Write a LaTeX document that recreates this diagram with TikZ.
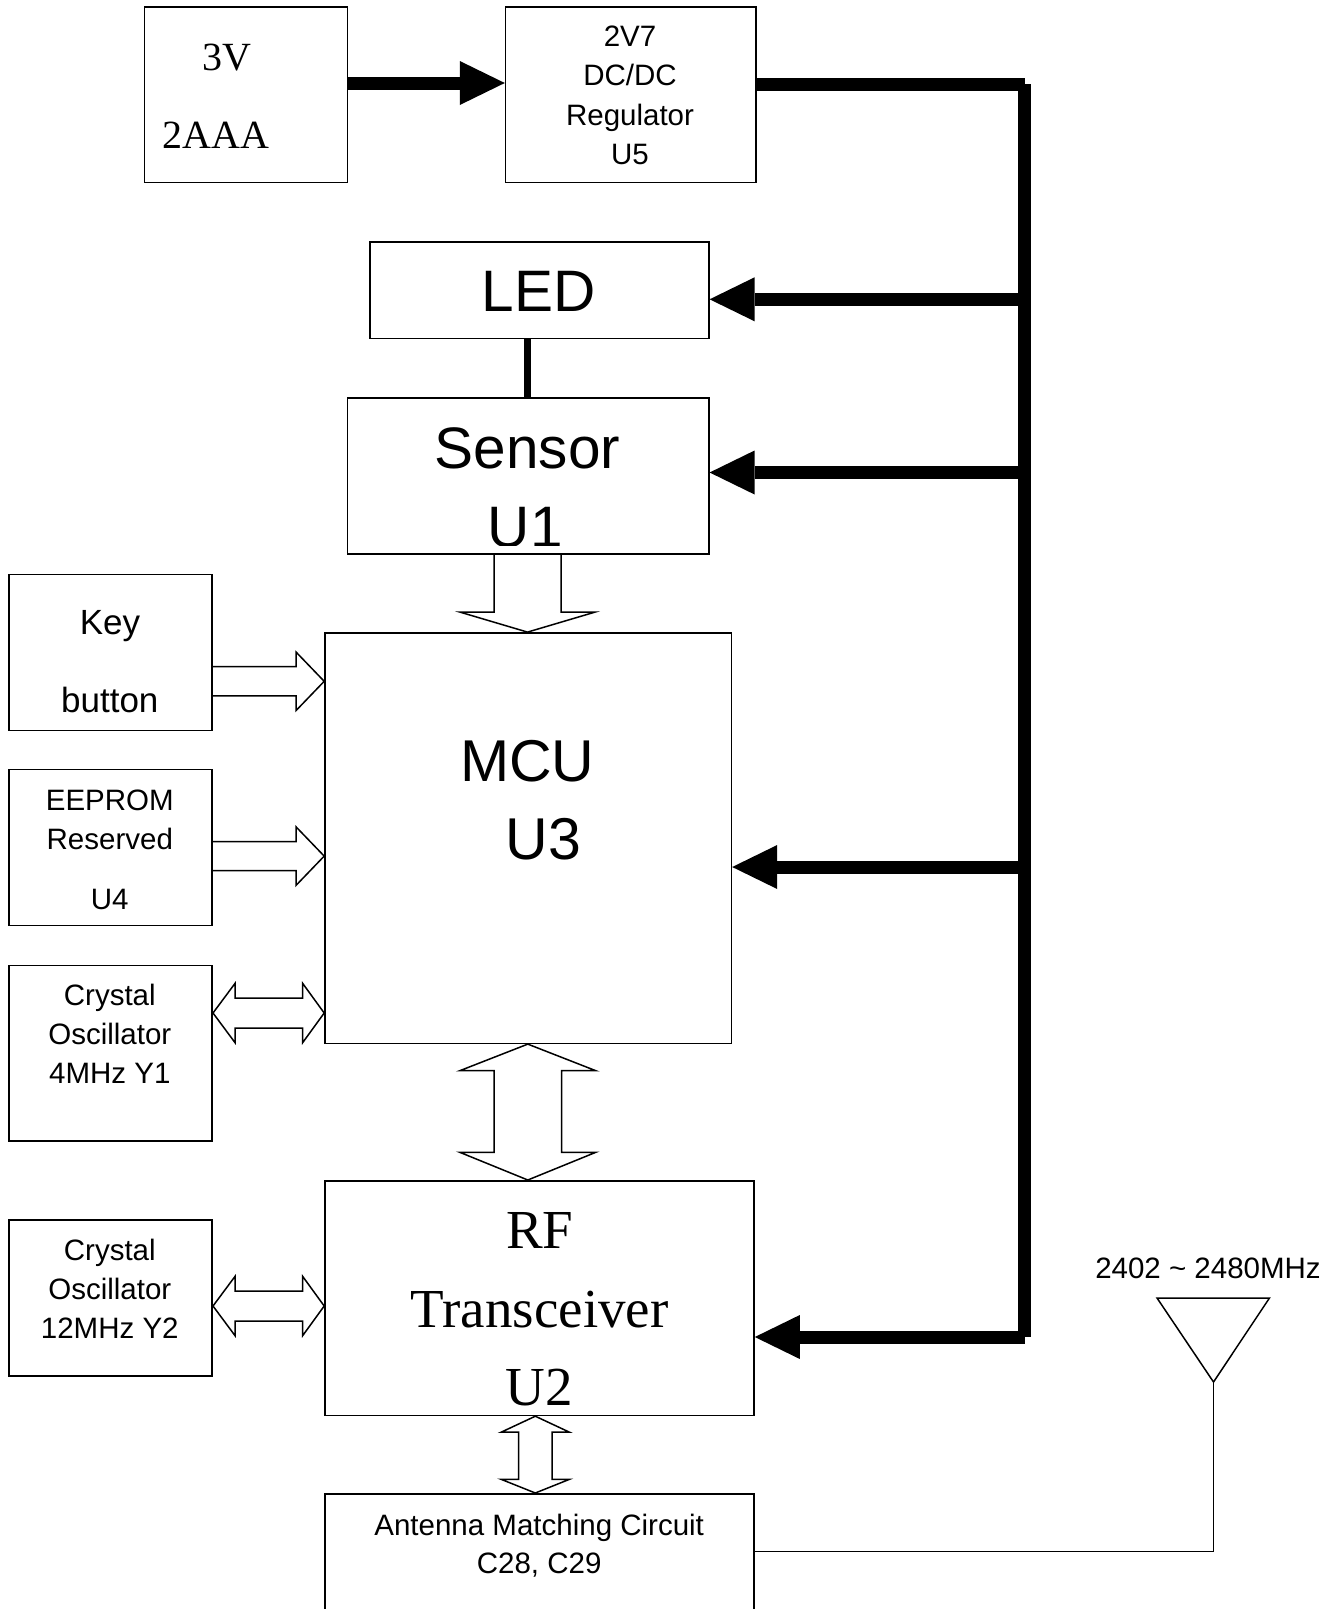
\documentclass[tikz,border=0pt]{standalone}
\usepackage{fontspec}
\setmainfont{Liberation Sans}
\newfontfamily\tnr{Liberation Serif}
\usetikzlibrary{arrows.meta,calc}
\newcommand\fsz[1]{\fontsize{#1}{#1}\selectfont}
\begin{document}
\begin{tikzpicture}[x=1pt,y=-1pt,
  box/.style={draw, line width=1.6pt, inner sep=0pt, anchor=north west},
  bus/.style={line width=13pt},
  pwr/.style={line width=13pt, -{Triangle[length=45pt,width=44pt,line width=0pt]}},
  hollow/.style={draw, line width=1.5pt, line join=miter},
  thin/.style={line width=1.5pt},
  lbl/.style={inner sep=0pt, anchor=base, text=black},
  s30/.style={lbl, font=\fsz{29.5}},
  big/.style={lbl, font=\fsz{58.5}},
  tbig/.style={lbl, font=\tnr\fsz{55}}]
\fill[white] (0,0) rectangle (1339,1609);
\useasboundingbox (0,0) rectangle (1339,1609);

% boxes
\node[box, minimum width=203.1pt, minimum height=175.4pt] (bat) at (143.7,6.2) {};
\node[box, minimum width=250.4pt, minimum height=175.4pt] (reg) at (504.8,6.2) {};
\node[box, minimum width=338.6pt, minimum height=96.5pt] (led) at (369.4,241.1) {};
\node[box, minimum width=361.2pt, minimum height=156pt] (sen) at (346.8,397.1) {};
\node[box, minimum width=406.4pt, minimum height=410.4pt] (mcu) at (324.2,632.1) {};
\node[box, minimum width=203.2pt, minimum height=156pt] (key) at (8.2,573.6) {};
\node[box, minimum width=203.2pt, minimum height=156pt] (eep) at (8.2,768.6) {};
\node[box, minimum width=203.2pt, minimum height=175.5pt] (xt1) at (8.2,964.5) {};
\node[box, minimum width=203.2pt, minimum height=156pt] (xt2) at (8.2,1219) {};
\node[box, minimum width=429pt, minimum height=234.6pt] (rf) at (324.2,1180) {};
\node[box, minimum width=429pt, minimum height=140pt] (ant) at (324.2,1493) {};

% labels
\node[lbl, font=\tnr\fsz{40}] (t3v) at (226.5,70) {3V};
\node[lbl, font=\tnr\fsz{40}] (t2aaa) at (215.8,148.3) {2AAA};
\node[s30] (r1) at (630,46.5) {2V7};
\node[s30] (r2) at (630,85.5) {DC/DC};
\node[s30] (r3) at (630,125) {Regulator};
\node[s30] (r4) at (630,164) {U5};
\node[big] (tled) at (538.8,311.4) {LED};
\node[big] (tsen) at (527.4,468.5) {Sensor};
\begin{scope}
\clip (sen.north west) rectangle ($(sen.south east)+(0,-9)$);
\node[big] (tu1) at (525.2,547) {U1};
\end{scope}
\node[lbl, font=\fsz{35}] (tkey) at (110,634.8) {Key};
\node[lbl, font=\fsz{35}] (tbtn) at (109.8,712.4) {button};
\node[s30] (e1) at (109.8,810.7) {EEPROM};
\node[s30] (e2) at (109.8,849) {Reserved};
\node[s30] (e3) at (109.8,909.4) {U4};
\node[s30] (c1) at (109.8,1005) {Crystal};
\node[s30] (c2) at (109.8,1044) {Oscillator};
\node[s30] (c3) at (109.8,1083.5) {4MHz Y1};
\node[s30] (d1) at (109.8,1260.3) {Crystal};
\node[s30] (d2) at (109.8,1299.3) {Oscillator};
\node[s30] (d3) at (109.8,1338.3) {12MHz Y2};
\node[lbl, font=\fsz{59}] (tmcu) at (527.4,781.7) {MCU};
\node[lbl, font=\fsz{59}] (tu3) at (543.7,859.5) {U3};
\node[tbig] (trf1) at (539.7,1248.3) {RF};
\node[tbig] (trf2) at (539.7,1327) {Transceiver};
\node[tbig] (trf3) at (539.6,1405.8) {U2};
\node[s30] (a1) at (539.2,1535.5) {Antenna Matching Circuit};
\node[s30] (a2) at (539.2,1573.5) {C28, C29};
\node[s30] (freq) at (1208,1278.2) {2402 \textasciitilde{} 2480MHz};

% power bus
\coordinate (yb) at (0,83);
\coordinate (bt) at (1024.5,84);
\coordinate (bb) at (1024.5,1337);
\coordinate (j1) at (1024.5,299.3);
\coordinate (j2) at (1024.5,472.5);
\coordinate (j3) at (1024.5,867);
\draw[pwr] (bat.east|-yb) -- (reg.west|-yb);
\draw[bus] (reg.east|-bt) -- (bt);
\draw[bus] (bt) -- (bb);
\draw[pwr] (j1) -- (j1-|led.east);
\draw[pwr] (j2) -- (j2-|sen.east);
\draw[pwr] (j3) -- (j3-|mcu.east);
\draw[pwr] (bb) -- (bb-|rf.east);

% LED - sensor
\coordinate (ls) at (527,0);
\draw[line width=7pt] (led.south-|ls) -- (sen.north-|ls);

% hollow arrows
\coordinate (sx) at (527.5,0);
\draw[hollow] ($(sen.south-|sx)+(-33.5,0)$) -- ($(mcu.north-|sx)+(-33.5,-20)$) -- ($(mcu.north-|sx)+(-67.5,-20)$) -- (mcu.north-|sx) -- ($(mcu.north-|sx)+(67.5,-20)$) -- ($(mcu.north-|sx)+(33.5,-20)$) -- ($(sen.south-|sx)+(33.5,0)$);

\coordinate (ka) at (0,681.3);
\draw[hollow] ($(key.east|-ka)+(0,-14.6)$) -- ($(mcu.west|-ka)+(-28,-14.6)$) -- ($(mcu.west|-ka)+(-28,-29.1)$) -- (mcu.west|-ka) -- ($(mcu.west|-ka)+(-28,29.1)$) -- ($(mcu.west|-ka)+(-28,14.6)$) -- ($(key.east|-ka)+(0,14.6)$);

\coordinate (ea) at (0,856.1);
\draw[hollow] ($(eep.east|-ea)+(0,-14.6)$) -- ($(mcu.west|-ea)+(-28,-14.6)$) -- ($(mcu.west|-ea)+(-28,-29.1)$) -- (mcu.west|-ea) -- ($(mcu.west|-ea)+(-28,29.1)$) -- ($(mcu.west|-ea)+(-28,14.6)$) -- ($(eep.east|-ea)+(0,14.6)$);

\coordinate (ca) at (0,1013);
\draw[hollow] (xt1.east|-ca) -- ($(xt1.east|-ca)+(22,-29.6)$) -- ($(xt1.east|-ca)+(22,-15)$) -- ($(mcu.west|-ca)+(-21.5,-15)$) -- ($(mcu.west|-ca)+(-21.5,-29.6)$) -- (mcu.west|-ca) -- ($(mcu.west|-ca)+(-21.5,29.6)$) -- ($(mcu.west|-ca)+(-21.5,15)$) -- ($(xt1.east|-ca)+(22,15)$) -- ($(xt1.east|-ca)+(22,29.6)$) -- cycle;

\coordinate (da) at (0,1306);
\draw[hollow] (xt2.east|-da) -- ($(xt2.east|-da)+(22,-29.6)$) -- ($(xt2.east|-da)+(22,-15)$) -- ($(rf.west|-da)+(-21.5,-15)$) -- ($(rf.west|-da)+(-21.5,-29.6)$) -- (rf.west|-da) -- ($(rf.west|-da)+(-21.5,29.6)$) -- ($(rf.west|-da)+(-21.5,15)$) -- ($(xt2.east|-da)+(22,15)$) -- ($(xt2.east|-da)+(22,29.6)$) -- cycle;

\coordinate (mx) at (527.8,0);
\draw[hollow] (mcu.south-|mx) -- ($(mcu.south-|mx)+(68,26.6)$) -- ($(mcu.south-|mx)+(33.8,26.6)$) -- ($(rf.north-|mx)+(33.8,-27.7)$) -- ($(rf.north-|mx)+(68,-27.7)$) -- (rf.north-|mx) -- ($(rf.north-|mx)+(-68,-27.7)$) -- ($(rf.north-|mx)+(-33.8,-27.7)$) -- ($(mcu.south-|mx)+(-33.8,26.6)$) -- ($(mcu.south-|mx)+(-68,26.6)$) -- cycle;

\coordinate (rx) at (535.3,0);
\draw[hollow] (rf.south-|rx) -- ($(rf.south-|rx)+(34.2,16)$) -- ($(rf.south-|rx)+(16.7,16)$) -- ($(ant.north-|rx)+(16.7,-13.7)$) -- ($(ant.north-|rx)+(34.2,-13.7)$) -- (ant.north-|rx) -- ($(ant.north-|rx)+(-34.2,-13.7)$) -- ($(ant.north-|rx)+(-16.7,-13.7)$) -- ($(rf.south-|rx)+(-16.7,16)$) -- ($(rf.south-|rx)+(-34.2,16)$) -- cycle;

% antenna
\coordinate (tl) at (1157.1,1298.1);
\coordinate (tr) at (1269.4,1298.1);
\coordinate (atip) at (1213.5,1382);
\coordinate (al) at (0,1551.7);
\draw[thin, line join=miter] (tl) -- (tr) -- (atip) -- cycle;
\draw[thin] (ant.east|-al) -- (atip|-al) -- (atip);
\end{tikzpicture}
\end{document}
